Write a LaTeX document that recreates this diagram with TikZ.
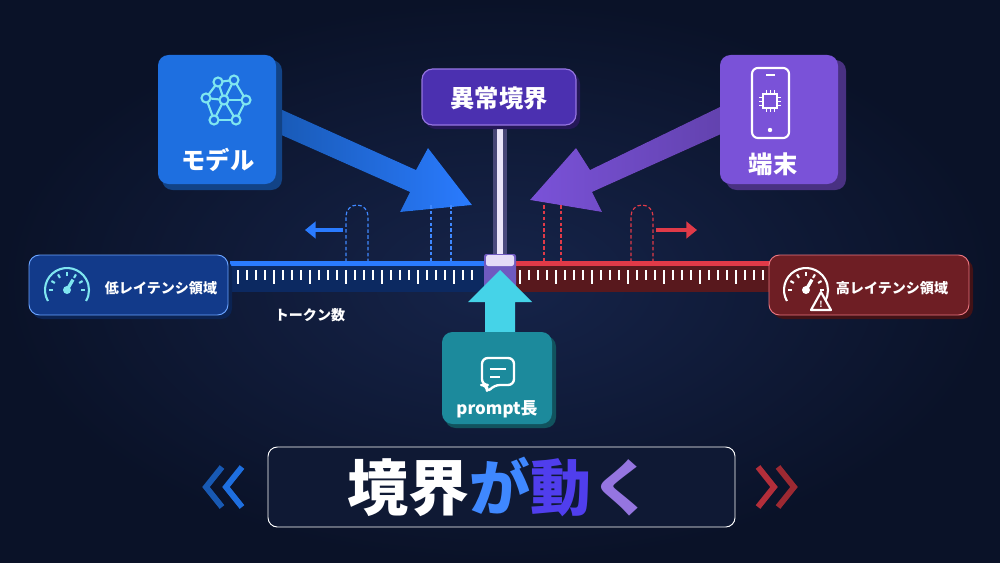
\documentclass[tikz,border=0pt]{standalone}
\usepackage{fontspec}
\setmainfont{Noto Sans CJK JP}
\usetikzlibrary{arrows.meta,shadings}
\definecolor{bg}{HTML}{0A1228}
\definecolor{bgc}{HTML}{16244A}
\definecolor{mblue}{HTML}{1E6FE0}
\definecolor{mpurp}{HTML}{7A52D8}
\definecolor{lpurp}{HTML}{4B30B0}
\definecolor{teal}{HTML}{1C8A9C}
\definecolor{cyanA}{HTML}{45D3E8}
\definecolor{lbox}{HTML}{123A8A}
\definecolor{rbox}{HTML}{6E1E24}
\definecolor{rred}{HTML}{E03A48}
\definecolor{bblue}{HTML}{2A7BFF}
\definecolor{icon}{HTML}{7FE6F0}
\tikzset{
 card/.style={rounded corners=9pt},
 txt/.style={text=white,font=\bfseries},
 dashb/.style={densely dashed,line width=1pt,draw=bblue!90!white},
 dashr/.style={densely dashed,line width=1pt,draw=rred},
 tick/.style={line width=0.9pt,draw=white!70},
 chev/.style={line width=5pt,line join=miter},
}
\begin{document}
\begin{tikzpicture}[x=0.03cm,y=-0.03cm]
\useasboundingbox (0,0) rectangle (1000,563);
\shade[inner color=bgc,outer color=bg] (0,0) rectangle (1000,563);
% boundary line
\fill[mpurp!60,opacity=.35] (493,120) rectangle (507,262);
\fill[white!85!mpurp] (497,120) rectangle (503,262);
% arrows
\fill[left color=mblue!80!black,right color=bblue] (278,108) -- (416,170) -- (428,148) -- (472,205) -- (400,212) -- (410,192) -- (270,130) -- cycle;
\fill[left color=mpurp,right color=mpurp!80!black] (722,106) -- (590,170) -- (576,148) -- (530,200) -- (602,212) -- (592,192) -- (730,130) -- cycle;
% model card
\fill[mblue!60!black,card] (162,60) rectangle (282,190);
\fill[mblue,card] (158,55) rectangle (276,184);
\begin{scope}[shift={(226,102)},draw=icon,line width=1.8pt]
 \foreach \a/\b in {{(-8,-20)}/{(8,-22)},{(-8,-20)}/{(-20,-4)},{(8,-22)}/{(20,-2)},{(-20,-4)}/{(-2,-2)},{(-2,-2)}/{(20,-2)},{(-8,-20)}/{(-2,-2)},{(8,-22)}/{(-2,-2)},{(-20,-4)}/{(-12,18)},{(-2,-2)}/{(-12,18)},{(-2,-2)}/{(10,18)},{(20,-2)}/{(10,18)},{(-12,18)}/{(10,18)}}
   \draw \a -- \b;
 \foreach \p in {(-8,-20),(8,-22),(-20,-4),(-2,-2),(20,-2),(-12,18),(10,18)}
   \filldraw[fill=mblue] \p circle (4.5);
\end{scope}
\node[txt,font=\bfseries\huge] (model) at (218,160) {モデル};
% terminal card
\fill[mpurp!60!black,card] (726,60) rectangle (846,190);
\fill[mpurp,card] (720,55) rectangle (838,184);
\draw[white,line width=1.8pt,rounded corners=5pt] (752,68) rectangle (789,138);
\draw[white,line width=1pt] (766,75) -- (775,75);
\draw[white,line width=1.2pt] (763,94) rectangle (777,108);
\foreach \d in {-4,0,4}{\draw[white] (759,101+\d)--(763,101+\d);\draw[white](777,101+\d)--(781,101+\d);\draw[white](770+\d,90)--(770+\d,94);\draw[white](770+\d,108)--(770+\d,112);}
\fill[white] (770,130) circle (2.2);
\node[txt,font=\bfseries\huge] (term) at (773,164) {端末};
% boundary label
\fill[lpurp!50!black,card] (425,73) rectangle (580,129);
\fill[lpurp,card,draw=mpurp!80!white,line width=1pt] (422,69) rectangle (576,125);
\node[txt,font=\bfseries\huge] (bound) at (499,98) {異常境界};
% dashed markers
\draw[dashb] (346,262) -- (346,216) arc (180:360:11) -- (368,262);
\draw[dashb] (431,205) -- (431,262) (451,205) -- (451,262);
\draw[dashr] (544,205) -- (544,262) (561,205) -- (561,262);
\draw[dashr] (631,262) -- (631,216) arc (180:360:11) -- (653,262);
\draw[-{Triangle[width=14pt,length=9pt]},bblue,line width=4pt] (343,230) -- (305,230);
\draw[-{Triangle[width=14pt,length=9pt]},rred,line width=4pt] (656,230) -- (697,230);
% ruler
\fill[lbox!70!black] (230,262) rectangle (487,292);
\fill[rbox!80!black] (513,262) rectangle (772,292);
\fill[bblue] (230,261) rectangle (487,266);
\fill[rred] (513,261) rectangle (772,266);
\foreach \x in {238,247,...,480} \draw[tick] (\x,270) -- (\x,{mod(\x-238,36)==0?284:280});
\foreach \x in {520,529,...,768} \draw[tick] (\x,270) -- (\x,{mod(\x-520,36)==0?284:280});
\fill[lpurp!80!white,rounded corners=2pt] (484,254) rectangle (516,292);
\fill[white!80!mpurp,rounded corners=2pt] (486,255) rectangle (514,266);
% left region box
\fill[lbox!60!black,card] (32,259) rectangle (232,319);
\fill[lbox,card,draw=bblue!70,line width=.8pt] (29,255) rectangle (228,315);
\begin{scope}[shift={(67,290)},draw=icon,line width=1.8pt]
 \draw (150:22) arc (150:390:22);
 \foreach \a in {180,210,...,360} \draw (\a:14) -- (\a:18);
 \draw[line width=2.8pt] (0,0) -- (-60:12);
 \fill[icon] (0,0) circle (4);
\end{scope}
\node[txt,font=\bfseries\large] (low) at (161,288) {低レイテンシ領域};
% right region box
\fill[rbox!60!black,card] (773,259) rectangle (973,319);
\fill[rbox,card,draw=rred!70,line width=.8pt] (769,255) rectangle (969,315);
\begin{scope}[shift={(806,290)},draw=white,line width=1.8pt]
 \draw (150:22) arc (150:390:22);
 \foreach \a in {180,210,...,360} \draw (\a:14) -- (\a:18);
 \draw[line width=2.8pt] (0,0) -- (-60:12);
 \fill[white] (0,0) circle (4);
 \draw[fill=rbox,line join=round] (15,2) -- (5,20) -- (25,20) -- cycle;
 \node[text=white,font=\scriptsize\bfseries] at (15,14) {!};
\end{scope}
\node[txt,font=\bfseries\large] (high) at (892,288) {高レイテンシ領域};
\node[txt,font=\bfseries\large] (tok) at (310,315) {トークン数};
% cyan arrow
\fill[cyanA] (485,338) -- (485,302) -- (468,302) -- (500,270) -- (532,302) -- (515,302) -- (515,338) -- cycle;
% prompt card
\fill[teal!60!black,card] (445,336) rectangle (556,428);
\fill[teal,card] (442,332) rectangle (552,424);
\begin{scope}[shift={(498,374)},draw=white,line width=2pt]
 \draw[rounded corners=5pt,line join=round] (-16,11) -- (-16,-16) -- (16,-16) -- (16,11) -- (-4,11) -- (-11,19) -- (-11,11) -- cycle;
 \draw (-8,-5) -- (8,-5) (-8,3) -- (2,3);
\end{scope}
\node[txt,font=\bfseries\Large] (prompt) at (497,409) {prompt長};
% bottom banner
\fill[bgc!70!black,rounded corners=8pt,draw=white!25,line width=.8pt] (268,447) rectangle (735,527);
\node[font=\bfseries\fontsize{52}{58}\selectfont] (title) at (500,487) {\textcolor{white}{境界}\textcolor{bblue!90!white}{が}\textcolor{blue!50!mpurp!90!white}{動}\textcolor{mpurp!80!white}{く}};
\draw[chev,mblue!80!black] (222,467) -- (206,487) -- (222,507);
\draw[chev,mblue] (242,467) -- (226,487) -- (242,507);
\draw[chev,rred!80!black] (758,467) -- (774,487) -- (758,507);
\draw[chev,rred!70!black] (778,467) -- (794,487) -- (778,507);
\end{tikzpicture}
\end{document}
